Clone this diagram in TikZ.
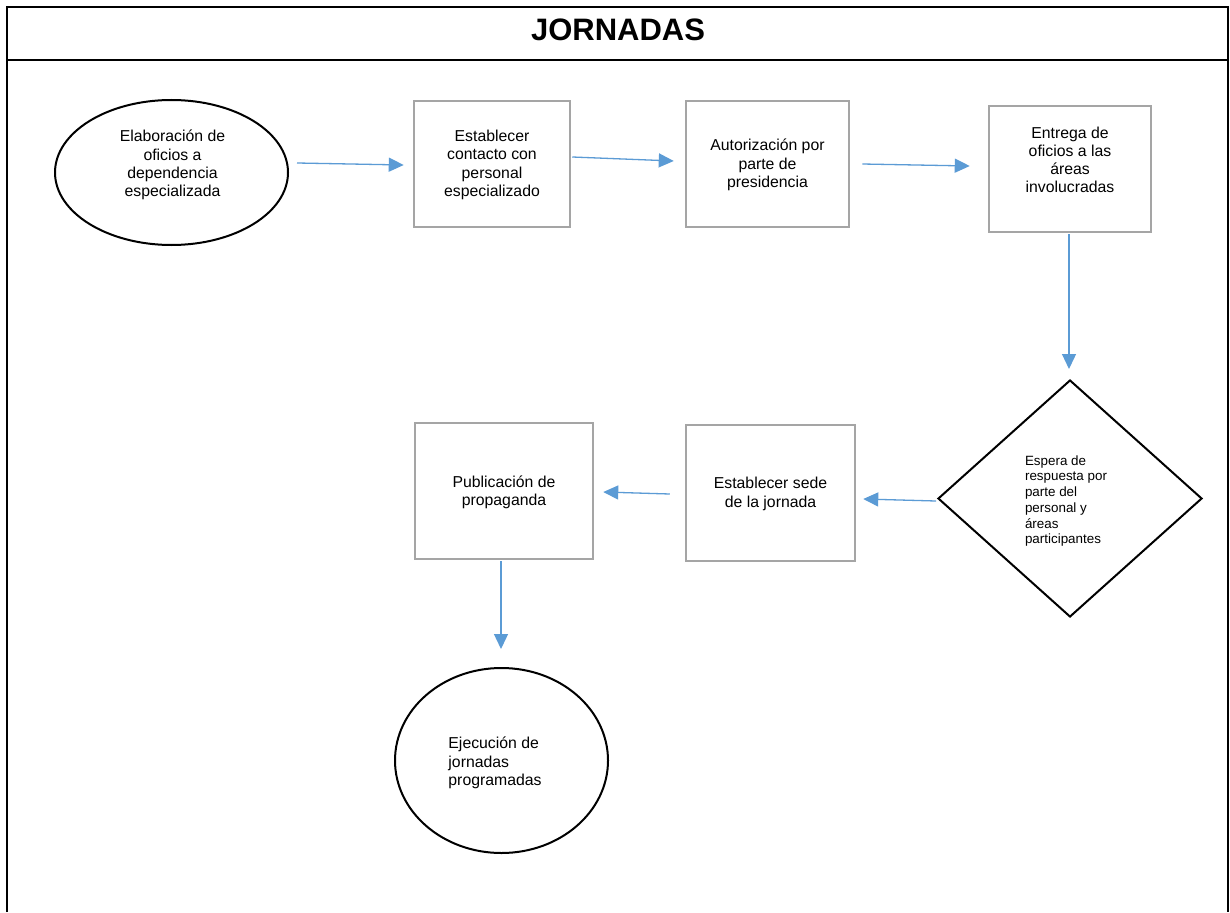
\documentclass[tikz,border=0pt]{standalone}
\usepackage{fontspec}
\setmainfont{Liberation Sans}
\usetikzlibrary{shapes.geometric,arrows.meta,calc}
\definecolor{arrowblue}{HTML}{5B9BD5}
\definecolor{boxgray}{HTML}{A5A5A5}
\begin{document}
\begin{tikzpicture}[x=1pt,y=-1pt,
  txt/.style={font=\fontsize{15.8}{18.2}\selectfont, align=center, inner sep=0pt},
  smalltxt/.style={font=\fontsize{13.4}{15.7}\selectfont, align=left, inner sep=0pt},
  stepbox/.style={draw=boxgray, line width=2.5pt, fill=white, rectangle, inner sep=0pt},
  oval/.style={draw=black, line width=2pt, ellipse, fill=white, inner sep=0pt},
  decision/.style={draw=black, line width=2pt, diamond, fill=white, inner sep=0pt},
  arr/.style={draw=arrowblue, line width=1.3pt, -{Triangle[length=15pt,width=14pt]}},
  frameline/.style={line width=2pt, draw=black}]
\useasboundingbox (0,0) rectangle (1230,912);
\fill[white] (0,0) rectangle (1230,912);
% frame
\draw[frameline] (7,912) -- (7,7) -- (1228,7) -- (1228,912);
\draw[frameline] (7,60) -- (1228,60);
\node[font=\bfseries\fontsize{31}{36}\selectfont] (title) at (618,30) {JORNADAS};
% shapes
\node[oval, minimum width=233pt, minimum height=145pt] (e1) at (171.5,172.5) {};
\node[stepbox, minimum width=156pt, minimum height=126pt] (b2) at (492,164) {};
\node[stepbox, minimum width=163pt, minimum height=126pt] (b3) at (767.5,164) {};
\node[stepbox, minimum width=162pt, minimum height=126pt] (b4) at (1070,169) {};
\node[decision, minimum width=264pt, minimum height=237pt] (d) at (1070,498.5) {};
\node[stepbox, minimum width=169pt, minimum height=136pt] (b5) at (770.5,493) {};
\node[stepbox, minimum width=178pt, minimum height=136pt] (b6) at (504,491) {};
\node[oval, minimum width=213pt, minimum height=185pt] (e2) at (501.5,760.5) {};
% texts
\node[txt] (t1) at ([shift={(1,-7.5)}]e1.center) {Elaboración de\\oficios a\\dependencia\\especializada};
\node[txt] (t2) at ([shift={(0,1)}]b2.center) {Establecer\\contacto con\\personal\\especializado};
\node[txt] (t3) at ([shift={(0,1)}]b3.center) {Autorización por\\parte de\\presidencia};
\node[txt] (t4) at ([shift={(0,-9)}]b4.center) {Entrega de\\oficios a las\\áreas\\involucradas};
\node[smalltxt] (t7) at ([shift={(-4,2.5)}]d.center) {Espera de\\respuesta por\\parte del\\personal y\\áreas\\participantes};
\node[txt] (t5) at ([shift={(0,1)}]b5.center) {Establecer sede\\de la jornada};
\node[txt] (t6) at ([shift={(0,1)}]b6.center) {Publicación de\\propaganda};
\node[txt, align=left] (t8) at ([shift={(-6.5,2.5)}]e2.center) {Ejecución de\\jornadas\\programadas};
% connectors
\draw[arr] ([shift={(8,-9.5)}]e1.east) -- ([shift={(-9,1)}]b2.west);
\draw[arr] ([shift={(1,-7)}]b2.east) -- ([shift={(-11,-3)}]b3.west);
\draw[arr] ([shift={(12,0)}]b3.east) -- ([shift={(-18,-3)}]b4.west);
\draw[arr] ([shift={(-1,1)}]b4.south) -- ([shift={(-1,-10)}]d.north);
\draw[arr] ([shift={(-1,2.5)}]d.west) -- ([shift={(7,6)}]b5.east);
\draw[arr] ([shift={(-15,1)}]b5.west) -- ([shift={(9,1)}]b6.east);
\draw[arr] ([shift={(-3,1)}]b6.south) -- ([shift={(-0.5,-18)}]e2.north);
\end{tikzpicture}
\end{document}
